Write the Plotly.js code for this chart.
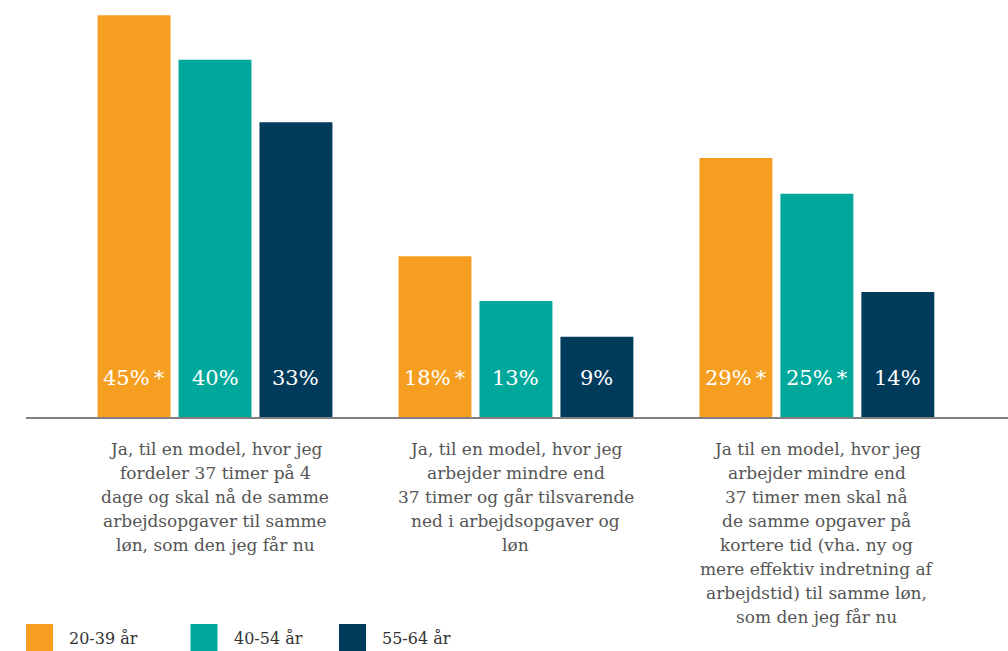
<!DOCTYPE html>
<html>
<head>
<meta charset="utf-8">
<script src="https://cdn.plot.ly/plotly-3.0.1.min.js"></script>
<style>html,body{margin:0;padding:0;background:#fff;}#chart{width:1008px;height:651px;}</style>
</head>
<body>
<div id="chart"></div>
<script>
// ---- data ----
const categories = [
  "Ja, til en model, hvor jeg<br>fordeler 37 timer på 4<br>dage og skal nå de samme<br>arbejdsopgaver til samme<br>løn, som den jeg får nu",
  "Ja, til en model, hvor jeg<br>arbejder mindre end<br>37 timer og går tilsvarende<br>ned i arbejdsopgaver og<br>løn",
  "Ja til en model, hvor jeg<br>arbejder mindre end<br>37 timer men skal nå<br>de samme opgaver på<br>kortere tid (vha. ny og<br>mere effektiv indretning af<br>arbejdstid) til samme løn,<br>som den jeg får nu"
];
const seriesNames = ["20-39 år", "40-54 år", "55-64 år"];
const values2039 = [45, 18, 29];
const values4054 = [40, 13, 25];
const values5564 = [33, 9, 14];
const signif2039 = [true, true, true];
const signif4054 = [false, false, true];
const signif5564 = [false, false, false];
const colors = ["#F59E1F", "#00A89C", "#003B5C"];

const allValues = [values2039, values4054, values5564];
const allSignif = [signif2039, signif4054, signif5564];

// ---- layout geometry ----
const W = 1008, H = 651;
const ml = 26, mr = 0, mt = 0, mb = 234;
const pw = W - ml - mr, ph = H - mt - mb;
const bargap = 0.193, bargroupgap = 0.099;
const xRange = [-0.628, 2.635];
const yRange = [0, 46.7];
const pxPerUnit = pw / (xRange[1] - xRange[0]);
const slotPx = (1 - bargap) / 3 * pxPerUnit;
const FONT = "DejaVu Serif, serif";

const px2x = px => (px - ml) / pw;
const px2y = py => (mt + ph - py) / ph;

const traces = allValues.map((vals, i) => ({
  type: "bar",
  name: seriesNames[i],
  x: categories,
  y: vals,
  marker: {color: colors[i], line: {width: 0}},
  showlegend: false,
  hoverinfo: "skip"
}));

const annotations = [];
allValues.forEach((vals, i) => {
  vals.forEach((v, j) => {
    annotations.push({
      x: categories[j], xref: "x", y: 0, yref: "y",
      xshift: (i - 1) * slotPx, yshift: 39,
      xanchor: "center", yanchor: "middle",
      text: v + "%" + (allSignif[i][j] ? "\u2009*" : ""),
      showarrow: false,
      font: {family: FONT, size: 21, color: "#ffffff"}
    });
  });
});

// category labels, one annotation per line (24px line spacing)
categories.forEach(cat => {
  cat.split("<br>").forEach((line, k) => {
    annotations.push({
      x: cat, xref: "x", y: 0, yref: "y",
      yshift: -(32 + 24 * k),
      xanchor: "center", yanchor: "middle",
      text: line, showarrow: false,
      font: {family: FONT, size: 17, color: "#555555"}
    });
  });
});

// custom legend (large squares)
const legendX = [26, 190.5, 339];
const shapes = [];
seriesNames.forEach((name, i) => {
  shapes.push({
    type: "rect", xref: "paper", yref: "paper",
    x0: px2x(legendX[i]), x1: px2x(legendX[i] + 27),
    y0: px2y(651), y1: px2y(624),
    fillcolor: colors[i], line: {width: 0}
  });
  annotations.push({
    xref: "paper", yref: "paper",
    x: px2x(legendX[i] + 41), y: px2y(638),
    xanchor: "left", yanchor: "middle",
    text: name, showarrow: false,
    font: {family: FONT, size: 16, color: "#333333"}
  });
});

const layout = {
  width: W, height: H,
  margin: {l: ml, r: mr, t: mt, b: mb, pad: 0},
  paper_bgcolor: "#ffffff", plot_bgcolor: "#ffffff",
  barmode: "group", bargap: bargap, bargroupgap: bargroupgap,
  xaxis: {
    type: "category", range: xRange,
    showline: true, linecolor: "#808080", linewidth: 1.5,
    ticks: "", showgrid: false, zeroline: false,
    showticklabels: false
  },
  yaxis: {
    range: yRange, showticklabels: false, showgrid: false,
    zeroline: false, showline: false, ticks: ""
  },
  showlegend: false,
  annotations: annotations,
  shapes: shapes
};

Plotly.newPlot("chart", traces, layout, {displayModeBar: false, staticPlot: true});
</script>
</body>
</html>
